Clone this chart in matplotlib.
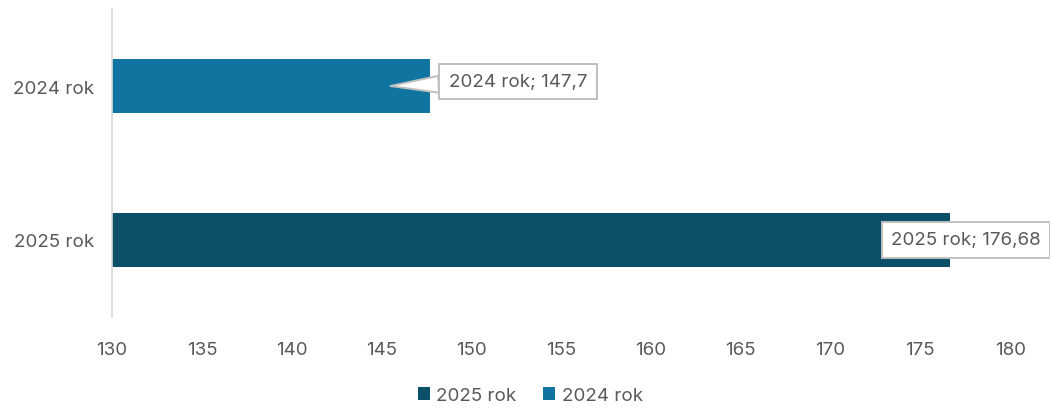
import matplotlib.pyplot as plt
from matplotlib.patches import Patch

# dane
kategorie = ['2025 rok', '2024 rok']
wartosci = [176.68, 147.7]
etykiety = ['2025 rok; 176,68', '2024 rok; 147,7']
kolory = ['#0B4F69', '#0F75A0']
os_x_min, os_x_max = 130, 180
ticki_x = list(range(130, 181, 5))

plt.rcParams['font.family'] = ['Inter', 'DejaVu Sans']
szary = '#595959'
rozmiar = 13.5

fig = plt.figure(figsize=(10.5, 4.1), dpi=100)
ax = fig.add_axes([0.1067, 0.2244, 0.962 - 0.1067, 0.9756 - 0.2244])

pozycje = list(range(len(kategorie)))
ax.barh(pozycje, [w - os_x_min for w in wartosci], left=os_x_min,
        height=0.35, color=kolory)

ax.set_xlim(os_x_min, os_x_max)
ax.set_ylim(-0.5, len(kategorie) - 0.5)
ax.set_xticks(ticki_x)
ax.set_xticklabels([str(t) for t in ticki_x])
ax.set_yticks(pozycje)
ax.set_yticklabels(kategorie)
ax.tick_params(axis='both', length=0, labelsize=rozmiar, colors=szary)
ax.tick_params(axis='x', pad=17)
ax.tick_params(axis='y', pad=13)

for s in ['top', 'right', 'bottom']:
    ax.spines[s].set_visible(False)
ax.spines['left'].set_color('#D9D9D9')
ax.spines['left'].set_linewidth(1.2)

ramka = dict(boxstyle='square,pad=0.5', fc='white', ec='#BFBFBF', lw=1.4)

# etykieta 2024 z dymkiem
ax.annotate(etykiety[1], xy=(145.5, 1), xytext=(152.6, 1.03),
            ha='center', va='center', fontsize=rozmiar, color=szary,
            bbox=ramka,
            arrowprops=dict(arrowstyle='wedge,tail_width=0.9', fc='white',
                            ec='#BFBFBF', lw=1.4, shrinkA=0, shrinkB=0))

# etykieta 2025
ax.text(177.55, 0, etykiety[0], ha='center', va='center', fontsize=rozmiar,
        color=szary, bbox=ramka, clip_on=False)

uchwyty = [Patch(facecolor=kolory[i], label=kategorie[i]) for i in range(len(kategorie))]
fig.legend(handles=uchwyty, loc='center', bbox_to_anchor=(0.505, 0.033),
           ncol=2, frameon=False, fontsize=rozmiar, labelcolor=szary,
           handlelength=0.65, handleheight=0.65, handletextpad=0.35,
           columnspacing=1.4)

plt.savefig('out.png', dpi=100)
